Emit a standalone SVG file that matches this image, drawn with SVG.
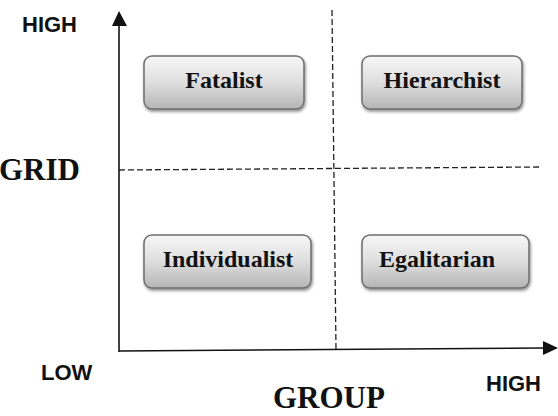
<svg xmlns="http://www.w3.org/2000/svg" width="558" height="416" viewBox="0 0 558 416">
<defs>
<linearGradient id="g" x1="0" y1="0" x2="0" y2="1">
<stop offset="0" stop-color="#f7f7f7"/>
<stop offset="0.5" stop-color="#dedede"/>
<stop offset="1" stop-color="#b5b5b5"/>
</linearGradient>
<filter id="sh" x="-10%" y="-10%" width="120%" height="130%">
<feGaussianBlur in="SourceAlpha" stdDeviation="1.5"/>
<feOffset dx="1" dy="2" result="b"/>
<feComponentTransfer><feFuncA type="linear" slope="0.45"/></feComponentTransfer>
<feMerge><feMergeNode/><feMergeNode in="SourceGraphic"/></feMerge>
</filter>
</defs>
<style>
.box{fill:url(#g);stroke:#6e6e6e;stroke-width:1.5;filter:url(#sh)}
.lbl{font-family:"Liberation Serif",serif;font-weight:bold;font-size:24px;fill:#111;text-anchor:middle}
.big{font-family:"Liberation Serif",serif;font-weight:bold;font-size:31px;fill:#111}
.ax{font-family:"Liberation Sans",sans-serif;font-weight:bold;font-size:22px;fill:#111}
.axis{stroke:#111;stroke-width:1.6;fill:none}
.dash{stroke:#222;stroke-width:1.3;stroke-dasharray:6,3;fill:none}
</style>
<g id="connectors">
<line class="axis" x1="119" y1="352" x2="119" y2="24"/>
<polygon points="119,11 112,26 127,26" fill="#111"/>
<line class="axis" x1="119" y1="351" x2="545" y2="348"/>
<polygon points="558,348 543,341 543,355" fill="#111"/>
<line class="dash" x1="332" y1="10" x2="336" y2="350"/>
<line class="dash" x1="119" y1="170" x2="539" y2="167"/>
</g>
<g id="fatalist">
<rect class="box" x="144" y="56" width="160" height="53" rx="8"/>
<text class="lbl" x="224" y="88">Fatalist</text>
</g>
<g id="hierarchist">
<rect class="box" x="362" y="56" width="160" height="53" rx="8"/>
<text class="lbl" x="442" y="88">Hierarchist</text>
</g>
<g id="individualist">
<rect class="box" x="144" y="235" width="167" height="53" rx="8"/>
<text class="lbl" x="228" y="267">Individualist</text>
</g>
<g id="egalitarian">
<rect class="box" x="362" y="235" width="167" height="53" rx="8"/>
<text class="lbl" x="437" y="267">Egalitarian</text>
</g>
<g id="labels">
<text class="ax" x="22" y="32">HIGH</text>
<text class="ax" x="41" y="380">LOW</text>
<text class="ax" x="486" y="391">HIGH</text>
<text class="big" x="-1" y="180">GRID</text>
<text class="big" x="273" y="408">GROUP</text>
</g>
</svg>
